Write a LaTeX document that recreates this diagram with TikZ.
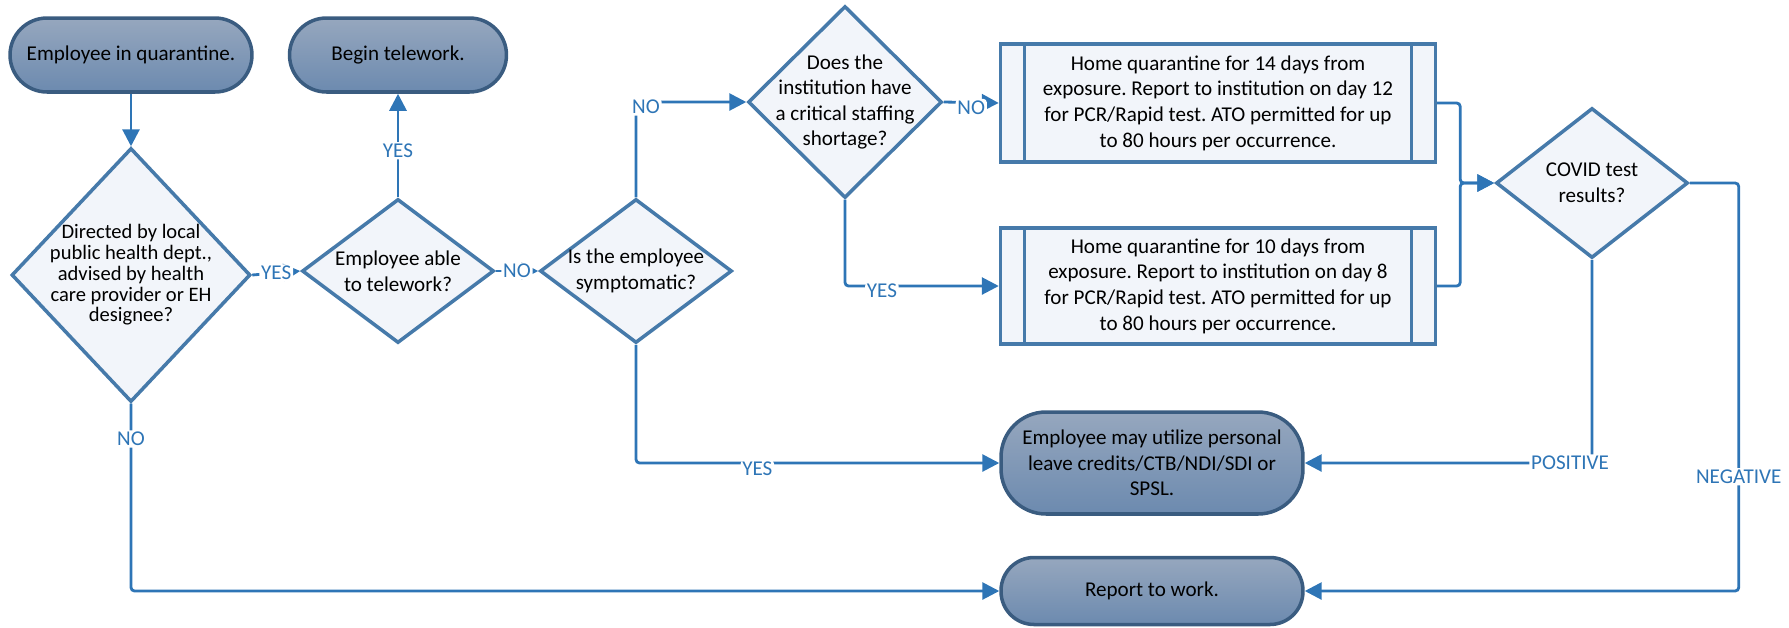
\documentclass[tikz,border=0pt]{standalone}
\usepackage{fontspec}
\setmainfont{Carlito}
\frenchspacing
\usetikzlibrary{shapes.geometric,arrows.meta}

\definecolor{lineblue}{RGB}{46,117,182}
\definecolor{edgeblue}{RGB}{70,122,170}
\definecolor{palefill}{RGB}{242,245,250}
\definecolor{termtop}{RGB}{150,167,190}
\definecolor{termbot}{RGB}{108,138,175}
\definecolor{termedge}{RGB}{58,92,128}

\tikzset{
  term/.style={rectangle, rounded corners=0.74cm, draw=termedge, line width=2pt,
    top color=termtop, bottom color=termbot, align=center,
    font=\fontsize{12}{14.6}\selectfont},
  decide/.style={diamond, draw=edgeblue, line width=2pt, fill=palefill, inner sep=0pt},
  dtext/.style={align=center, inner sep=0pt, font=\fontsize{12}{14.6}\selectfont},
  sub/.style={rectangle, draw=edgeblue, line width=2pt, fill=palefill, align=center,
    minimum width=8.7cm, font=\fontsize{12}{14.6}\selectfont,
    path picture={
      \draw[edgeblue, line width=2pt]
        ([xshift=0.48cm]path picture bounding box.north west) --
        ([xshift=0.48cm]path picture bounding box.south west);
      \draw[edgeblue, line width=2pt]
        ([xshift=-0.48cm]path picture bounding box.north east) --
        ([xshift=-0.48cm]path picture bounding box.south east);}},
  conn/.style={draw=lineblue, line width=1.6pt, rounded corners=2pt,
    -{Triangle[length=0.34cm,width=0.34cm]}},
  lbl/.style={fill=white, text=lineblue, inner sep=1pt, font=\fontsize{12}{14}\selectfont}
}

\begin{document}
\begin{tikzpicture}[x=0.02cm, y=-0.02cm]
    \useasboundingbox (0,0) rectangle (1789,627);

    % start and end points
    \node[term, minimum width=4.84cm, minimum height=1.48cm] (start) at (131,55) {Employee in quarantine.};
    \node[term, minimum width=4.34cm, minimum height=1.48cm] (tele) at (398,55) {Begin telework.};
    \node[term, minimum width=6.04cm, minimum height=2.04cm, rounded corners=0.9cm] (leave) at (1152,463)
      {Employee may utilize personal\\leave credits/CTB/NDI/SDI or\\SPSL.};
    \node[term, minimum width=6.04cm, minimum height=1.34cm, rounded corners=0.66cm] (report) at (1152,591) {Report to work.};

    % decisions
    \node[decide, minimum width=4.78cm, minimum height=5.08cm] (d1) at (131,275) {};
    \node[dtext, font=\fontsize{11.7}{11.8}\selectfont] (d1t) at (d1)
      {Directed by local\\public health dept.,\\advised by health\\care provider or EH\\designee?};
    \node[decide, minimum width=3.84cm, minimum height=2.88cm] (d2) at (398,271) {};
    \node[dtext] (d2t) at (d2) {Employee able\\to telework?};
    \node[decide, minimum width=3.84cm, minimum height=2.88cm] (d3) at (636,271) {};
    \node[dtext] (d3t) at (d3) {Is the employee\\symptomatic?};
    \node[decide, minimum width=3.88cm, minimum height=3.84cm] (d4) at (845,102) {};
    \node[dtext] (d4t) at (d4) {Does the\\institution have\\a critical staffing\\shortage?};
    \node[decide, minimum width=3.84cm, minimum height=3.0cm] (covid) at (1592,183) {};
    \node[dtext] (covidt) at (covid) {COVID test\\results?};

    % quarantine boxes
    \node[sub, minimum height=2.36cm] (q14) at (1218,103)
      {Home quarantine for 14 days from\\exposure. Report to institution on day 12\\for PCR/Rapid test. ATO permitted for up\\to 80 hours per occurrence.};
    \node[sub, minimum height=2.32cm] (q10) at (1218,286)
      {Home quarantine for 10 days from\\exposure. Report to institution on day 8\\for PCR/Rapid test. ATO permitted for up\\to 80 hours per occurrence.};

    % connectors
    \draw[conn] (start) -- (d1);
    \draw[conn] (d1.east) -- node[lbl] {YES} (d2.west);
    \draw[conn] (d2.north) -- node[lbl, pos=0.45] {YES} (tele.south);
    \draw[conn] (d2.east) -- node[lbl] {NO} (d3.west);
    \draw[conn] (d3.north) |- node[lbl, xshift=0.2cm, yshift=-0.1cm] {NO} (d4.west);
    \draw[conn] (d4.east) -- node[lbl, yshift=-0.1cm] {NO} (q14.west);
    \draw[conn] (d4.south) |- node[lbl, pos=0.62, yshift=-0.1cm] {YES} (q10.west);
    \draw[conn] (q14.east) -- ++(23,0) |- (covid.west);
    \draw[conn] (q10.east) -- ++(23,0) |- (covid.west);
    \draw[conn] (d3.south) |- node[lbl, pos=0.667, yshift=-0.12cm] {YES} (leave.west);
    \draw[conn] (covid.south) |- node[lbl, pos=0.5, xshift=-0.44cm] {POSITIVE} (leave.east);
    \draw[conn] (covid.east) -- ++(49,0) |- node[lbl, pos=0.36] {NEGATIVE} (report.east);
    \draw[conn] (d1.south) |- node[lbl, pos=0.094] {NO} (report.west);
\end{tikzpicture}
\end{document}
